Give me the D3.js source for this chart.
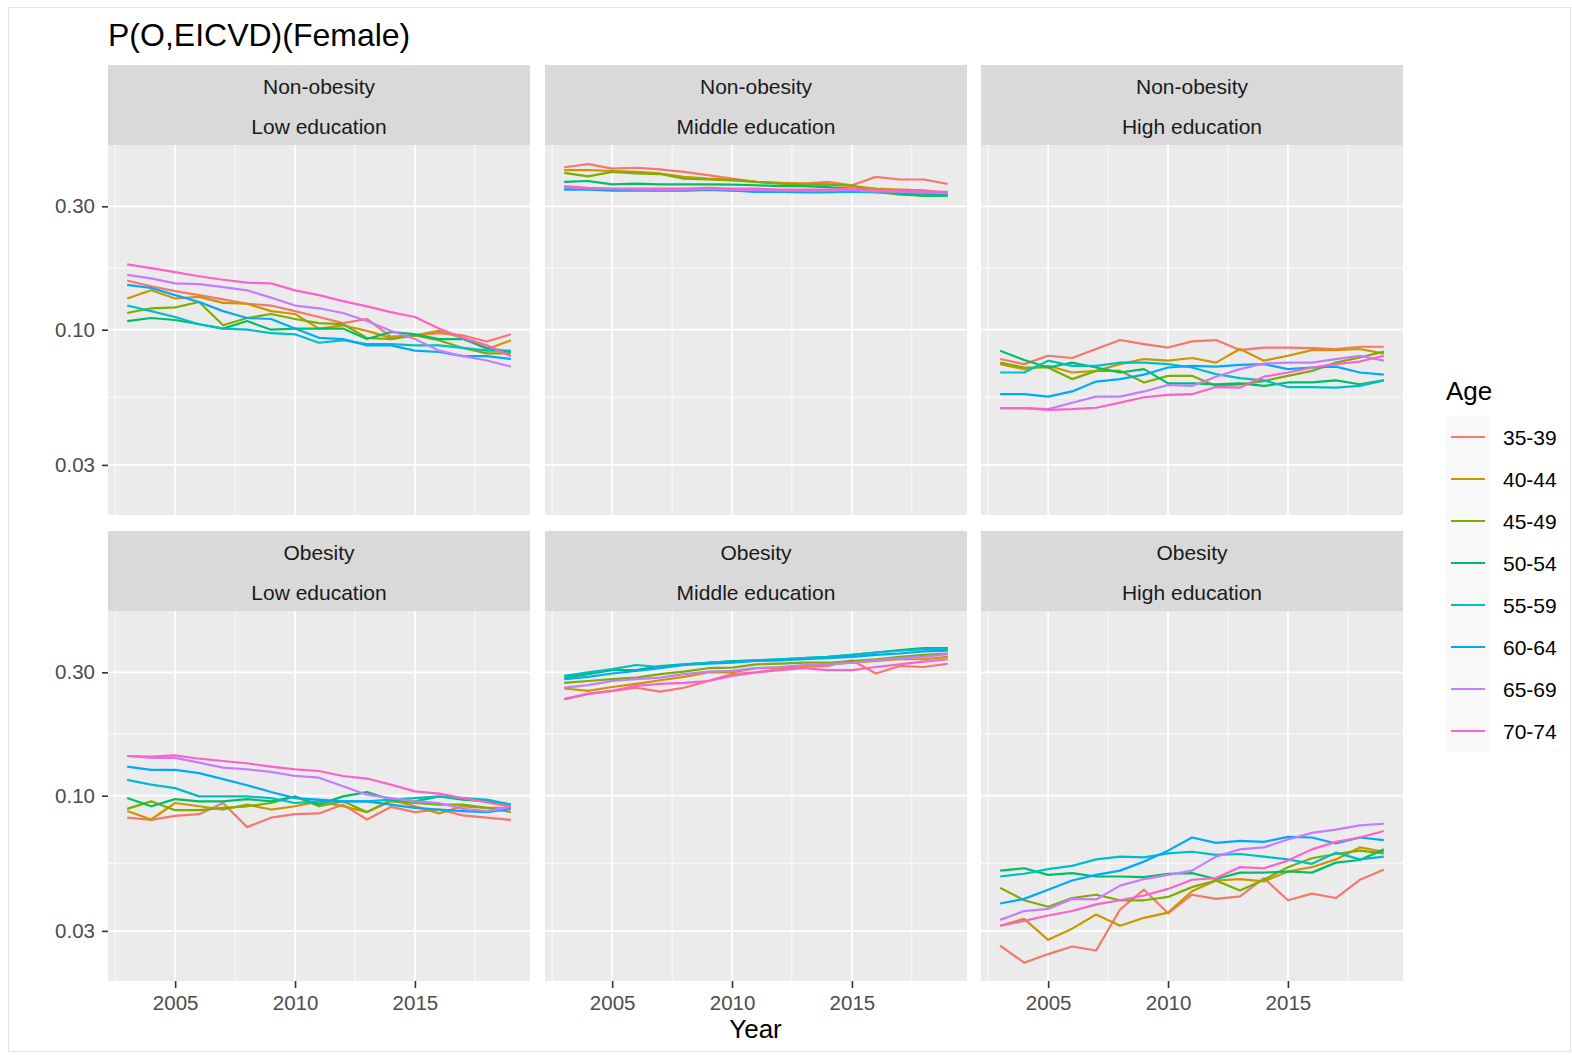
<!DOCTYPE html>
<html>
<head>
<meta charset="utf-8">
<script src="https://cdn.jsdelivr.net/npm/d3@7"></script>
<style>
  body { margin: 0; background: #fff; }
  svg { display: block; font-family: "Liberation Sans", Arial, sans-serif; }
</style>
</head>
<body>
<div id="chart"></div>
<script>
// ---- data ----
const years = [2003, 2004, 2005, 2006, 2007, 2008, 2009, 2010, 2011, 2012, 2013, 2014, 2015, 2016, 2017, 2018, 2019];
const ages = ["35-39", "40-44", "45-49", "50-54", "55-59", "60-64", "65-69", "70-74"];
const obesityLevels = ["Non-obesity", "Obesity"];
const educationLevels = ["Low education", "Middle education", "High education"];
const yTicks = [0.03, 0.10, 0.30];
const xTicks = [2005, 2010, 2015];

// one row per age group, in the order of `ages`
const nonObesityLow = [
  [0.155,0.147,0.141,0.136,0.131,0.126,0.124,0.118,0.112,0.106,0.110,0.094,0.095,0.097,0.095,0.090,0.096],
  [0.132,0.142,0.132,0.134,0.127,0.126,0.118,0.115,0.101,0.104,0.099,0.093,0.095,0.099,0.093,0.084,0.091],
  [0.116,0.121,0.122,0.128,0.104,0.111,0.115,0.110,0.106,0.105,0.093,0.092,0.095,0.091,0.085,0.081,0.081],
  [0.108,0.111,0.109,0.105,0.101,0.108,0.100,0.101,0.101,0.101,0.092,0.098,0.096,0.092,0.092,0.085,0.082],
  [0.124,0.118,0.112,0.105,0.101,0.100,0.097,0.096,0.089,0.091,0.088,0.088,0.087,0.087,0.085,0.083,0.083],
  [0.149,0.145,0.136,0.128,0.118,0.111,0.110,0.101,0.093,0.092,0.087,0.087,0.083,0.082,0.079,0.079,0.077],
  [0.163,0.158,0.151,0.150,0.146,0.142,0.133,0.124,0.121,0.116,0.108,0.099,0.092,0.083,0.079,0.076,0.072],
  [0.179,0.173,0.167,0.161,0.156,0.152,0.151,0.142,0.136,0.129,0.123,0.117,0.112,0.101,0.093,0.087,0.079]
];
const nonObesityMiddle = [
  [0.425,0.437,0.420,0.423,0.417,0.408,0.396,0.384,0.373,0.370,0.367,0.373,0.362,0.390,0.381,0.381,0.366],
  [0.414,0.414,0.411,0.408,0.402,0.390,0.384,0.381,0.373,0.369,0.367,0.365,0.359,0.351,0.348,0.346,0.338],
  [0.404,0.392,0.408,0.402,0.400,0.384,0.381,0.378,0.373,0.367,0.364,0.364,0.362,0.341,0.333,0.330,0.330],
  [0.373,0.376,0.365,0.367,0.365,0.365,0.365,0.364,0.362,0.359,0.359,0.356,0.351,0.341,0.336,0.330,0.330],
  [0.352,0.350,0.347,0.347,0.346,0.346,0.347,0.345,0.343,0.341,0.340,0.340,0.342,0.340,0.339,0.336,0.334],
  [0.348,0.348,0.345,0.345,0.345,0.345,0.348,0.346,0.341,0.341,0.341,0.343,0.346,0.345,0.343,0.341,0.338],
  [0.356,0.352,0.350,0.349,0.348,0.348,0.350,0.348,0.347,0.346,0.345,0.345,0.347,0.343,0.342,0.340,0.338],
  [0.359,0.354,0.351,0.351,0.351,0.351,0.354,0.351,0.351,0.348,0.348,0.348,0.351,0.346,0.345,0.343,0.341]
];
const nonObesityHigh = [
  [0.0770,0.0736,0.0793,0.0777,0.0842,0.0912,0.0880,0.0853,0.0901,0.0912,0.0834,0.0853,0.0853,0.0848,0.0842,0.0859,0.0859],
  [0.0736,0.0704,0.0725,0.0683,0.0693,0.0736,0.0770,0.0759,0.0777,0.0746,0.0842,0.0759,0.0793,0.0834,0.0834,0.0842,0.0808],
  [0.0746,0.0714,0.0714,0.0644,0.0693,0.0693,0.0625,0.0663,0.0663,0.0606,0.0615,0.0633,0.0663,0.0693,0.0746,0.0781,0.0823],
  [0.0829,0.0763,0.0714,0.0746,0.0714,0.0683,0.0704,0.0620,0.0620,0.0615,0.0620,0.0606,0.0625,0.0625,0.0637,0.0615,0.0637],
  [0.0683,0.0683,0.0759,0.0725,0.0725,0.0746,0.0746,0.0736,0.0714,0.0673,0.0650,0.0637,0.0600,0.0600,0.0597,0.0606,0.0637],
  [0.0563,0.0563,0.0551,0.0577,0.0630,0.0644,0.0670,0.0714,0.0725,0.0720,0.0731,0.0736,0.0704,0.0714,0.0720,0.0683,0.0670],
  [0.0497,0.0497,0.0493,0.0522,0.0551,0.0551,0.0577,0.0611,0.0606,0.0658,0.0704,0.0740,0.0746,0.0746,0.0770,0.0793,0.0759],
  [0.0497,0.0497,0.0490,0.0493,0.0499,0.0522,0.0548,0.0560,0.0563,0.0600,0.0597,0.0658,0.0683,0.0714,0.0736,0.0753,0.0793]
];
const obesityLow = [
  [0.0822,0.0806,0.0836,0.0848,0.0937,0.0756,0.0822,0.0848,0.0854,0.0924,0.0809,0.0905,0.0864,0.0884,0.0839,0.0822,0.0806],
  [0.0872,0.0809,0.0937,0.0910,0.0884,0.0924,0.0884,0.0910,0.0951,0.0910,0.0864,0.0965,0.0910,0.0854,0.0910,0.0897,0.0897],
  [0.0889,0.0951,0.0879,0.0879,0.0897,0.0910,0.0937,0.0993,0.0910,0.0951,0.0864,0.0951,0.0937,0.0924,0.0924,0.0897,0.0864],
  [0.0979,0.0910,0.0970,0.0951,0.0951,0.0970,0.0951,0.0993,0.0924,0.0994,0.1033,0.0965,0.0951,0.0993,0.0965,0.0951,0.0924],
  [0.1152,0.1104,0.1070,0.0994,0.0994,0.0994,0.0979,0.0937,0.0951,0.0951,0.0951,0.0965,0.0979,0.0994,0.0979,0.0965,0.0924],
  [0.1295,0.1258,0.1258,0.1222,0.1159,0.1098,0.1033,0.0979,0.0965,0.0951,0.0951,0.0924,0.0897,0.0884,0.0872,0.0864,0.0889],
  [0.1424,0.1400,0.1400,0.1342,0.1284,0.1265,0.1236,0.1192,0.1174,0.1088,0.1009,0.0979,0.0951,0.0937,0.0889,0.0872,0.0905],
  [0.1424,0.1415,0.1433,0.1390,0.1362,0.1335,0.1295,0.1265,0.1246,0.1192,0.1165,0.1104,0.1039,0.1018,0.0979,0.0943,0.0905]
];
const obesityMiddle = [
  [0.2364,0.2475,0.2545,0.2616,0.2527,0.2616,0.2777,0.2953,0.2997,0.3086,0.3146,0.3174,0.3340,0.2969,0.3174,0.3146,0.3239],
  [0.2598,0.2545,0.2633,0.2708,0.2796,0.2881,0.2997,0.2997,0.3112,0.3129,0.3174,0.3221,0.3268,0.3318,0.3371,0.3371,0.3443],
  [0.2733,0.2777,0.2823,0.2864,0.2953,0.3021,0.3112,0.3129,0.3221,0.3239,0.3268,0.3268,0.3318,0.3371,0.3443,0.3506,0.3547],
  [0.2864,0.2953,0.3059,0.3059,0.3174,0.3221,0.3268,0.3318,0.3340,0.3371,0.3402,0.3443,0.3506,0.3580,0.3660,0.3724,0.3724],
  [0.2908,0.2998,0.3086,0.3203,0.3146,0.3221,0.3268,0.3298,0.3340,0.3371,0.3402,0.3443,0.3506,0.3580,0.3635,0.3691,0.3691],
  [0.2823,0.2881,0.2969,0.3040,0.3112,0.3203,0.3239,0.3268,0.3318,0.3340,0.3371,0.3402,0.3443,0.3506,0.3547,0.3613,0.3635],
  [0.2616,0.2675,0.2777,0.2823,0.2864,0.2953,0.3021,0.3040,0.3112,0.3146,0.3203,0.3221,0.3268,0.3340,0.3402,0.3443,0.3527],
  [0.2364,0.2475,0.2545,0.2659,0.2708,0.2733,0.2777,0.2908,0.2997,0.3059,0.3112,0.3059,0.3059,0.3146,0.3221,0.3298,0.3371]
];
const obesityHigh = [
  [0.0263,0.0226,0.0244,0.0261,0.0252,0.0363,0.0433,0.0351,0.0414,0.0399,0.0408,0.0480,0.0394,0.0418,0.0402,0.0473,0.0517],
  [0.0314,0.0334,0.0277,0.0306,0.0347,0.0314,0.0337,0.0353,0.0427,0.0470,0.0476,0.0466,0.0509,0.0529,0.0567,0.0631,0.0607],
  [0.0440,0.0394,0.0372,0.0402,0.0414,0.0394,0.0394,0.0406,0.0443,0.0470,0.0430,0.0473,0.0529,0.0573,0.0595,0.0613,0.0598],
  [0.0513,0.0524,0.0494,0.0502,0.0487,0.0487,0.0484,0.0499,0.0502,0.0476,0.0504,0.0504,0.0509,0.0504,0.0551,0.0564,0.0620],
  [0.0487,0.0499,0.0520,0.0535,0.0567,0.0581,0.0577,0.0598,0.0607,0.0590,0.0595,0.0581,0.0567,0.0545,0.0602,0.0567,0.0581],
  [0.0383,0.0399,0.0433,0.0470,0.0494,0.0513,0.0556,0.0613,0.0689,0.0657,0.0669,0.0663,0.0693,0.0689,0.0653,0.0689,0.0673],
  [0.0331,0.0358,0.0365,0.0399,0.0397,0.0449,0.0476,0.0494,0.0513,0.0581,0.0620,0.0631,0.0677,0.0718,0.0739,0.0768,0.0779],
  [0.0314,0.0328,0.0344,0.0358,0.0380,0.0394,0.0411,0.0436,0.0473,0.0480,0.0529,0.0524,0.0561,0.0620,0.0663,0.0689,0.0730]
];

// facet grid: rows = obesity, cols = education
const panels = [
  [nonObesityLow, nonObesityMiddle, nonObesityHigh],
  [obesityLow, obesityMiddle, obesityHigh]
];

// ggplot default hue palette for 8 groups
const colors = ["#F8766D", "#CD9600", "#7CAE00", "#00BE67", "#00BFC4", "#00A9FF", "#C77CFF", "#FF61CC"];

const width = 1572, height = 1055;
const colX = [108, 545, 981];
const rowY = [65, 531];
const panelW = 422, stripH = 80, panelH = 370;
const FONT = "Liberation Sans, Arial, sans-serif";

const svg = d3.select("#chart").append("svg")
  .attr("width", width)
  .attr("height", height);

svg.append("rect")
  .attr("width", width).attr("height", height)
  .attr("fill", "#fff");

// faint frame around the figure
svg.append("rect")
  .attr("x", 8.5).attr("y", 7.5)
  .attr("width", 1562).attr("height", 1044)
  .attr("fill", "none").attr("stroke", "#e3e3e3");

// scales (shared by all facets, like ggplot fixed scales)
const x = d3.scaleLinear().domain([2002.2, 2019.8]).range([0, panelW]);
const y = d3.scaleLog().domain([0.0192, 0.518]).range([panelH, 0]);

const xMinor = [2002.5, 2007.5, 2012.5, 2017.5];
const yMinor = [Math.sqrt(0.03 * 0.1), Math.sqrt(0.1 * 0.3)];

const line = d3.line()
  .x((v, i) => x(years[i]))
  .y(v => y(v));

// title
svg.append("text")
  .attr("x", 108).attr("y", 46)
  .style("font-size", "32px")
  .attr("fill", "#000")
  .text("P(O,EICVD)(Female)");

panels.forEach((row, r) => {
  row.forEach((series, c) => {
    const g = svg.append("g")
      .attr("transform", `translate(${colX[c]},${rowY[r]})`);

    // strip
    g.append("rect")
      .attr("width", panelW).attr("height", stripH)
      .attr("fill", "#D9D9D9");
    g.append("text")
      .attr("x", panelW / 2).attr("y", 21)
      .attr("text-anchor", "middle")
      .attr("dominant-baseline", "central")
      .style("font-size", "21px").attr("fill", "#1A1A1A")
      .text(obesityLevels[r]);
    g.append("text")
      .attr("x", panelW / 2).attr("y", 61)
      .attr("text-anchor", "middle")
      .attr("dominant-baseline", "central")
      .style("font-size", "21px").attr("fill", "#1A1A1A")
      .text(educationLevels[c]);

    const p = g.append("g").attr("transform", `translate(0,${stripH})`);
    p.append("rect")
      .attr("width", panelW).attr("height", panelH)
      .attr("fill", "#EBEBEB");

    // minor grid
    p.selectAll(".xminor").data(xMinor).enter().append("line")
      .attr("x1", d => x(d)).attr("x2", d => x(d))
      .attr("y1", 0).attr("y2", panelH)
      .attr("stroke", "#fff").attr("stroke-width", 0.8);
    p.selectAll(".yminor").data(yMinor).enter().append("line")
      .attr("x1", 0).attr("x2", panelW)
      .attr("y1", d => y(d)).attr("y2", d => y(d))
      .attr("stroke", "#fff").attr("stroke-width", 0.8);
    // major grid
    p.selectAll(".xmajor").data(xTicks).enter().append("line")
      .attr("x1", d => x(d)).attr("x2", d => x(d))
      .attr("y1", 0).attr("y2", panelH)
      .attr("stroke", "#fff").attr("stroke-width", 1.7);
    p.selectAll(".ymajor").data(yTicks).enter().append("line")
      .attr("x1", 0).attr("x2", panelW)
      .attr("y1", d => y(d)).attr("y2", d => y(d))
      .attr("stroke", "#fff").attr("stroke-width", 1.7);

    // one line per age group
    p.selectAll(".series").data(series).enter().append("path")
      .attr("d", d => line(d))
      .attr("fill", "none")
      .attr("stroke", (d, i) => colors[i])
      .attr("stroke-width", 2.2)
      .attr("stroke-linejoin", "round");

    // y axis on the first column
    if (c === 0) {
      const ya = p.append("g")
        .call(d3.axisLeft(y).tickValues(yTicks).tickFormat(d3.format(".2f")).tickSize(6).tickPadding(7));
      ya.select(".domain").remove();
      ya.selectAll("line").attr("stroke", "#333").attr("stroke-width", 1.6);
      ya.selectAll("text").attr("fill", "#4D4D4D")
        .style("font-size", "20.5px").style("font-family", FONT);
    }
    // x axis on the bottom row
    if (r === 1) {
      const xa = p.append("g")
        .attr("transform", `translate(0,${panelH})`)
        .call(d3.axisBottom(x).tickValues(xTicks).tickFormat(d3.format("d")).tickSize(7).tickPadding(7));
      xa.select(".domain").remove();
      xa.selectAll("line").attr("stroke", "#333").attr("stroke-width", 1.6);
      xa.selectAll("text").attr("fill", "#4D4D4D")
        .style("font-size", "20.5px").style("font-family", FONT);
    }
  });
});

// x axis title
svg.append("text")
  .attr("x", (colX[0] + colX[2] + panelW) / 2).attr("y", 1038)
  .attr("text-anchor", "middle")
  .style("font-size", "26px").attr("fill", "#000")
  .text("Year");

// legend
const legend = svg.append("g").attr("transform", "translate(1446,370)");
legend.append("text")
  .attr("x", 0).attr("y", 30)
  .style("font-size", "26px").attr("fill", "#000")
  .text("Age");
const keys = legend.selectAll(".key").data(ages).enter().append("g")
  .attr("transform", (d, i) => `translate(0,${46 + i * 42})`);
keys.append("rect")
  .attr("width", 44).attr("height", 42)
  .attr("fill", "#F8F8F8");
keys.append("line")
  .attr("x1", 5).attr("x2", 39)
  .attr("y1", 21).attr("y2", 21)
  .attr("stroke", (d, i) => colors[i])
  .attr("stroke-width", 2.2);
keys.append("text")
  .attr("x", 57).attr("y", 21)
  .attr("dominant-baseline", "central")
  .style("font-size", "21px").attr("fill", "#000")
  .text(d => d);
</script>
</body>
</html>
